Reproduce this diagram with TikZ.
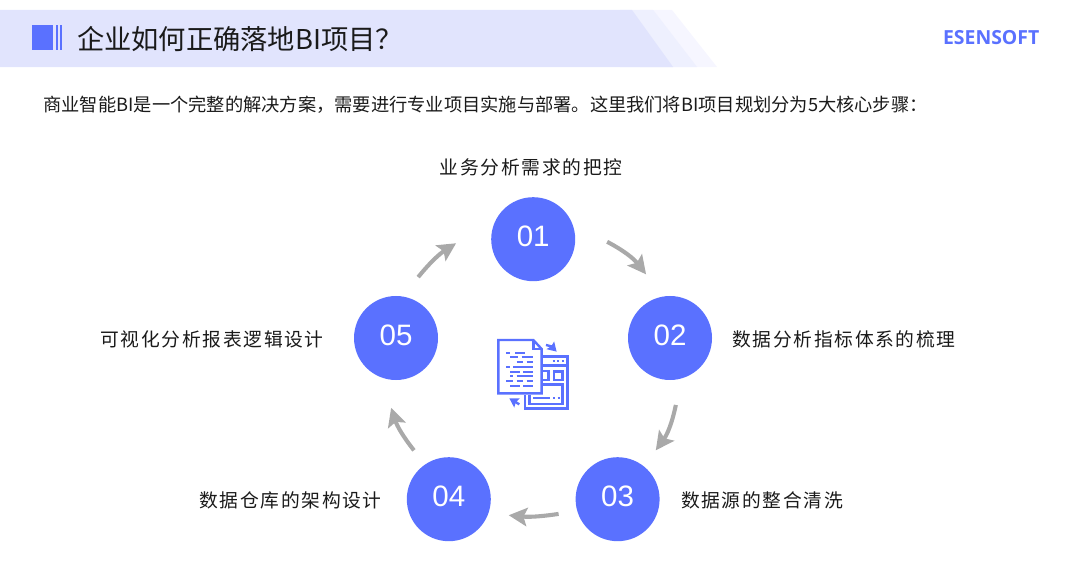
\documentclass[tikz,border=0pt]{standalone}
\usepackage{xcolor}
\usepackage{fontspec}
\usetikzlibrary{arrows.meta}
\newfontfamily\cjk{Noto Sans CJK SC}
\newfontfamily\cjkwide[LetterSpace=9]{Noto Sans CJK SC}
\newfontfamily\numfont{Liberation Sans}
\newfontfamily\logofont{Open Sans}
\definecolor{esenBlue}{HTML}{5A71FF}
\definecolor{bandA}{HTML}{E1E4FD}
\definecolor{bandB}{HTML}{EEF0FE}
\definecolor{bandC}{HTML}{F6F6FF}
\definecolor{flowGray}{HTML}{A9A9A9}
\definecolor{inkBlack}{HTML}{1A1A1A}
\tikzset{
  lbl/.style={font=\cjkwide\fontsize{13.35}{16}\selectfont, text=inkBlack, inner sep=0pt},
  ttl/.style={font=\cjk\fontsize{19.4}{22}\selectfont, text=inkBlack, inner sep=0pt},
  sm/.style={font=\cjk\fontsize{12.98}{15}\selectfont, text=inkBlack, inner sep=0pt},
}

\begin{document}
\begin{tikzpicture}[
  stepnode/.style={circle, fill=esenBlue, minimum size=2.1cm, inner sep=0pt, text=white, text depth=4.5pt,
                   font=\numfont\fontsize{21}{25}\selectfont},
  flow/.style={draw=flowGray, line width=2.9pt, -{Stealth[length=4.6mm, width=4.6mm, inset=0.9mm]}},
  icon/.style={draw=esenBlue, line width=1.7pt},
  iconrow/.style={draw=esenBlue, line width=1.5pt}]
  \useasboundingbox (0,0) rectangle (27,14.2);
  % header band
  \fill[bandC] (16,13.95) -- (16.8,13.95) -- (17.93,12.52) -- (16,12.52) -- cycle;
  \fill[bandB] (15.5,13.95) -- (16.33,13.95) -- (17.43,12.52) -- (15.5,12.52) -- cycle;
  \fill[bandA] (0,13.95) -- (15.8,13.95) -- (16.83,12.52) -- (0,12.52) -- cycle;
  \fill[esenBlue] (0.8,12.95) rectangle (1.33,13.58);
  \fill[esenBlue] (1.39,12.95) rectangle (1.44,13.58);
  \fill[esenBlue] (1.51,12.95) rectangle (1.56,13.58);
  \node[ttl, anchor=west] (title) at (1.92,13.225) {企业如何正确落地BI项目？};
  \node[anchor=center, inner sep=0pt, text=esenBlue, font=\logofont\bfseries\fontsize{13.8}{16}\selectfont]
    (logo) at (24.78,13.25) {ESENSOFT};
  \node[sm, anchor=west] (intro) at (1.08,11.57)
    {商业智能BI是一个完整的解决方案，需要进行专业项目实施与部署。这里我们将BI项目规划分为5大核心步骤：};
  % steps
  \node[stepnode] (stepa) at (13.33,8.22)  {01};
  \node[stepnode] (stepb) at (16.75,5.75)  {02};
  \node[stepnode] (stepc) at (15.44,1.72)  {03};
  \node[stepnode] (stepd) at (11.22,1.72)  {04};
  \node[stepnode] (stepe) at (9.9,5.75)    {05};
  \node[lbl, anchor=center] (lbla) at (13.28,10.01) {业务分析需求的把控};
  \node[lbl, anchor=west]   (lblb) at (18.3,5.72)   {数据分析指标体系的梳理};
  \node[lbl, anchor=west]   (lblc) at (17.02,1.7)   {数据源的整合清洗};
  \node[lbl, anchor=east]   (lbld) at (9.55,1.7)    {数据仓库的架构设计};
  \node[lbl, anchor=east]   (lble) at (8.1,5.72)    {可视化分析报表逻辑设计};
  \draw[flow] ([shift={(-2:1.85)}]stepa.center) to[bend left=12] ([shift={(110.6:1.7)}]stepb.center);
  \draw[flow] ([shift={(-85:1.68)}]stepb.center) to[bend left=12] ([shift={(52:1.55)}]stepc.center);
  \draw[flow] ([shift={(194:1.52)}]stepc.center) to[bend left=7] ([shift={(-15:1.55)}]stepd.center);
  \draw[flow] ([shift={(125.5:1.5)}]stepd.center) to[bend left=10] ([shift={(266:1.75)}]stepe.center);
  \draw[flow] ([shift={(70:1.62)}]stepe.center) to[bend left=9] ([shift={(183:1.93)}]stepa.center);
  % centre icon
  \begin{scope}[shift={(12,6.075)}, x=0.008333cm, y=-0.008333cm]
    \draw[icon, line join=miter] (55,45) -- (160,45) -- (185,72) -- (185,205) -- (55,205) -- cycle;
    \draw[icon] (160,45) -- (160,72) -- (185,72);
    \draw[iconrow] (78,83) -- (90,83) (105,83) -- (135,83);
    \draw[iconrow] (90,97) -- (115,97) (125,97) -- (160,97);
    \draw[iconrow] (110,110) -- (130,110) (140,110) -- (160,110);
    \draw[iconrow] (78,125) -- (90,125) (100,125) -- (160,125);
    \draw[iconrow] (90,140) -- (120,140) (130,140) -- (160,140);
    \draw[iconrow] (90,153) -- (100,153) (110,153) -- (160,153);
    \draw[iconrow] (78,168) -- (100,168) (110,168) -- (130,168) (140,168) -- (160,168);
    \draw[iconrow] (90,182) -- (120,182) (130,182) -- (160,182);
    \draw[icon] (190,95) -- (262,95) -- (262,250) -- (135,250) -- (135,210);
    \draw[icon] (148,210) -- (148,237) -- (248,237) -- (248,178) -- (190,178);
    \draw[icon] (190,122) -- (262,122);
    \draw[iconrow] (218,108) -- (224,108) (232,108) -- (238,108) (246,108) -- (252,108);
    \draw[icon] (190,138) -- (205,138) -- (205,165) -- (190,165);
    \draw[icon] (222,140) rectangle (248,165);
    \draw[iconrow] (160,218) -- (210,218) (220,218) -- (226,218) (233,218) -- (239,218);
    \draw[icon, -{Stealth[length=2.2mm, width=2.6mm, inset=0.3mm]}] (198,60) -- (214,64) -- (230,80);
    \draw[icon, -{Stealth[length=2.2mm, width=2.6mm, inset=0.3mm]}] (118,238) -- (88,220);
  \end{scope}
\end{tikzpicture}
\end{document}
